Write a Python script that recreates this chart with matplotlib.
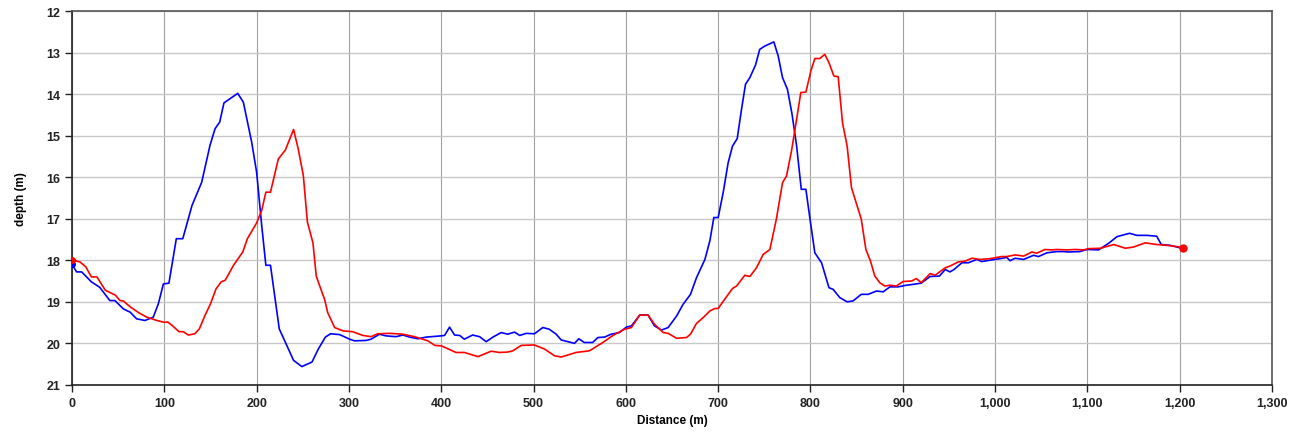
import matplotlib.pyplot as plt
import numpy as np
from matplotlib.ticker import FuncFormatter, MultipleLocator

# blue profile: distance (m), depth (m)
blue_x = [0, 5, 10.5, 21, 30, 41, 46.5, 55.6, 63, 70, 79, 88, 93.5, 99, 105, 113, 120,
          130, 140.5, 149.5, 155, 160, 164.6, 171, 179.5, 185.6, 194.6, 200, 205.5, 210,
          215, 224.5, 231, 240, 249, 260, 267, 274.5, 280, 290, 300.7, 306, 318.8, 324,
          333, 340, 351, 358.5, 365.7, 374.7, 383.8, 400, 403.6, 409, 414.4, 420, 425,
          434, 441.5, 448.7, 456, 465, 472, 479.4, 485, 492, 501, 510, 517, 524.5, 530,
          544.4, 549, 555, 564, 569.7, 577, 584, 593, 600.5, 606, 615, 624, 631, 638.6,
          645.8, 655, 662, 670, 676.5, 685.6, 691, 695.3, 700, 705.4, 710.8, 715.5, 720.6,
          725.3, 729.6, 734.3, 740.4, 745, 750.5, 760.3, 765, 769.7, 775, 780, 785, 790,
          795, 800, 804.7, 812, 820, 824.5, 831.8, 839.7, 846, 855, 862.5, 871.5, 878.7,
          886, 895, 904, 911, 920, 929.6, 939.7, 946, 951, 955, 964, 971, 980, 985.6,
          996.5, 1005.5, 1012.7, 1016, 1021.7, 1030.8, 1041.6, 1047, 1056, 1067, 1074,
          1079.6, 1092, 1097.6, 1101, 1112, 1123, 1132, 1145.7, 1153.6, 1164.5, 1175,
          1180, 1189.7, 1197, 1204]
blue_y = [18.1, 18.28, 18.28, 18.52, 18.65, 18.97, 18.97, 19.17, 19.25, 19.41, 19.45,
          19.37, 19.05, 18.57, 18.55, 17.48, 17.48, 16.68, 16.12, 15.23, 14.83, 14.67,
          14.21, 14.11, 13.98, 14.19, 15.15, 15.88, 17.16, 18.12, 18.12, 19.65, 19.97,
          20.41, 20.56, 20.45, 20.13, 19.85, 19.77, 19.79, 19.9, 19.94, 19.93, 19.9,
          19.78, 19.82, 19.84, 19.8, 19.85, 19.89, 19.85, 19.82, 19.81, 19.61, 19.8,
          19.81, 19.9, 19.8, 19.84, 19.96, 19.85, 19.74, 19.78, 19.73, 19.81, 19.76,
          19.77, 19.62, 19.66, 19.78, 19.92, 20.0, 19.89, 19.98, 19.98, 19.86, 19.85,
          19.78, 19.74, 19.61, 19.58, 19.32, 19.32, 19.58, 19.68, 19.62, 19.34, 19.06,
          18.82, 18.42, 17.98, 17.53, 16.97, 16.97, 16.37, 15.65, 15.25, 15.07, 14.36,
          13.76, 13.6, 13.3, 12.92, 12.84, 12.74, 13.08, 13.6, 13.88, 14.48, 15.25,
          16.29, 16.29, 17.09, 17.82, 18.06, 18.66, 18.7, 18.9, 19.0, 18.98, 18.82,
          18.82, 18.74, 18.76, 18.64, 18.64, 18.6, 18.58, 18.55, 18.39, 18.38, 18.22,
          18.28, 18.23, 18.06, 18.06, 17.98, 18.03, 17.99, 17.96, 17.93, 18.01, 17.95,
          17.98, 17.88, 17.91, 17.82, 17.79, 17.79, 17.8, 17.79, 17.75, 17.74, 17.75,
          17.59, 17.43, 17.35, 17.4, 17.4, 17.42, 17.62, 17.64, 17.68, 17.72]

# red profile: distance (m), depth (m)
red_x = [0, 8.7, 15, 21, 27, 36, 47, 52, 55.6, 63, 72, 81, 92, 99, 104, 110, 116, 120.6,
         126, 133, 138, 144, 150, 156, 161.6, 166, 175, 185, 190, 200, 205.5, 210, 215,
         223.5, 231, 240, 245, 250.6, 255, 261, 264.6, 269.5, 273.6, 277, 284.5, 293.5,
         304, 315, 324, 331, 344, 358.5, 371, 385.6, 393, 400, 416, 425, 439.7, 454, 463,
         472, 477.6, 486.6, 501, 512, 522.7, 530, 546, 560.6, 575, 586, 598.6, 606, 615,
         624, 631, 640.4, 645.8, 655, 665.7, 670, 676.5, 683.8, 691, 696.4, 700, 707,
         715.5, 719.9, 728.9, 734.3, 741.5, 748.7, 756, 763, 769.7, 774, 779.4, 785,
         789.5, 795, 800.4, 804.7, 810, 815.5, 820, 825.3, 830, 834.7, 839.7, 844.4,
         850.5, 855, 860, 865, 869.7, 875, 880.5, 886, 893, 900.4, 909.4, 914.8, 920,
         929.6, 935, 946, 951, 960, 967.6, 974.8, 983.8, 994.6, 1007, 1012.7, 1021.7,
         1030.8, 1039.8, 1045, 1054, 1061.5, 1067, 1077.7, 1086.8, 1095.8, 1101, 1114,
         1128.6, 1141, 1150, 1162.6, 1175, 1186, 1197, 1204]
red_y = [17.99, 18.04, 18.16, 18.4, 18.4, 18.72, 18.84, 18.97, 18.98, 19.12, 19.26,
         19.37, 19.45, 19.49, 19.49, 19.6, 19.72, 19.72, 19.8, 19.77, 19.65, 19.33,
         19.05, 18.69, 18.52, 18.48, 18.12, 17.8, 17.48, 17.1, 16.8, 16.36, 16.36,
         15.56, 15.35, 14.85, 15.31, 15.96, 17.08, 17.58, 18.38, 18.69, 18.94, 19.26,
         19.62, 19.7, 19.72, 19.81, 19.84, 19.77, 19.76, 19.78, 19.84, 19.94, 20.05,
         20.06, 20.22, 20.22, 20.32, 20.19, 20.22, 20.21, 20.18, 20.05, 20.04, 20.14,
         20.3, 20.33, 20.22, 20.18, 19.98, 19.81, 19.66, 19.62, 19.32, 19.32, 19.54,
         19.74, 19.76, 19.88, 19.86, 19.78, 19.52, 19.38, 19.22, 19.16, 19.16, 18.94,
         18.68, 18.62, 18.36, 18.39, 18.18, 17.86, 17.74, 17.01, 16.13, 15.97, 15.37,
         14.6, 13.96, 13.95, 13.44, 13.14, 13.14, 13.04, 13.24, 13.56, 13.58, 14.69,
         15.25, 16.25, 16.69, 17.01, 17.74, 18.02, 18.38, 18.54, 18.62, 18.6, 18.62,
         18.51, 18.5, 18.44, 18.54, 18.32, 18.36, 18.18, 18.14, 18.04, 18.02, 17.95,
         17.98, 17.96, 17.91, 17.91, 17.87, 17.9, 17.8, 17.83, 17.74, 17.75, 17.74,
         17.75, 17.74, 17.75, 17.72, 17.71, 17.62, 17.71, 17.68, 17.58, 17.62, 17.64,
         17.67, 17.7]

fig = plt.figure(figsize=(13.02, 4.35), dpi=100)
ax = fig.add_axes([0.0553, 0.113, 0.9217, 0.859])

ax.plot(blue_x, blue_y, color='#0000ff', lw=1.2, zorder=3)
ax.plot(red_x, red_y, color='#ff0000', lw=1.2, zorder=4)
ax.plot(blue_x[0], blue_y[0], 'o', color='#0000ff', ms=4, zorder=5)
ax.plot(red_x[0], red_y[0], 'o', color='#ff0000', ms=4, zorder=5)
ax.plot(red_x[-1], red_y[-1], 'o', color='#ff0000', ms=5, zorder=5)

ax.set_xlim(0, 1300)
ax.set_ylim(21, 12)
ax.xaxis.set_major_locator(MultipleLocator(100))
ax.yaxis.set_major_locator(MultipleLocator(1))
ax.xaxis.set_major_formatter(FuncFormatter(lambda v, p: f"{int(v):,}"))

ax.grid(axis='x', color='#a0a0a0', lw=0.8)
ax.grid(axis='y', color='#c8c8c8', lw=1.0)
ax.set_axisbelow(True)

for s in ax.spines.values():
    s.set_color('#555555')
    s.set_linewidth(1.2)
ax.spines['left'].set_color('#222222')
ax.spines['bottom'].set_color('#222222')

ax.tick_params(direction='out', length=5, width=1, colors='#222222', labelsize=9)
for lab in ax.get_xticklabels() + ax.get_yticklabels():
    lab.set_fontweight('bold')
    lab.set_family('Liberation Sans')

ax.set_xlabel('Distance (m)', fontsize=8.5, fontweight='bold', family='Liberation Sans', labelpad=4)
ax.set_ylabel('depth (m)', fontsize=8.5, fontweight='bold', family='Liberation Sans', labelpad=14)

fig.savefig('out.png', dpi=100)
